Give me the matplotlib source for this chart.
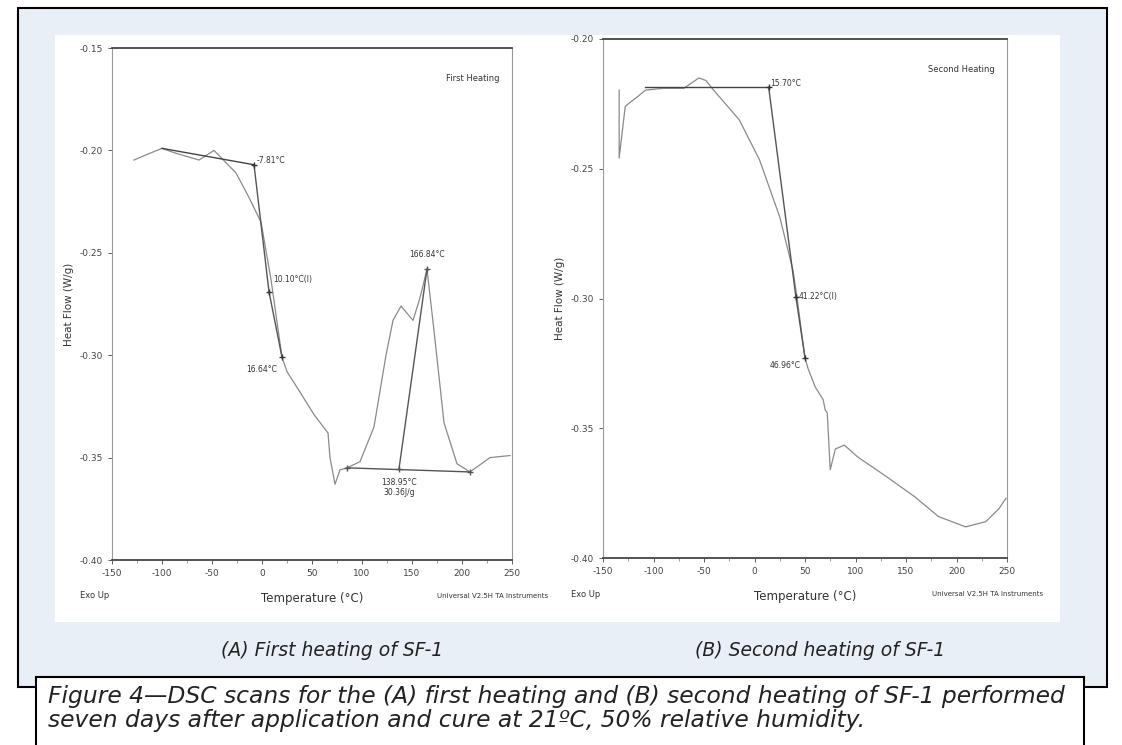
import matplotlib.pyplot as plt
from matplotlib.patches import Rectangle

# (A) first heating curve, temperature in C vs heat flow in W/g
temp_a = [-128, -116, -100, -88, -63, -48, -40, -26, -13, -1, 9, 20, 25, 38, 52, 66, 68,
          73, 78, 85, 98, 112, 124, 131, 139, 151, 158, 165, 172, 182, 195, 208, 228, 248]
flow_a = [-0.2047, -0.2022, -0.1990, -0.2011, -0.2047, -0.2000, -0.2040, -0.2110, -0.2230,
          -0.2350, -0.2630, -0.3010, -0.3080, -0.3180, -0.3290, -0.3380, -0.3500,
          -0.3630, -0.3560, -0.3550, -0.3520, -0.3350, -0.3000, -0.2830, -0.2760,
          -0.2830, -0.2720, -0.2580, -0.2880, -0.3330, -0.3530, -0.3570, -0.3500, -0.3490]
onset_a = [(-100, -0.1990), (-8, -0.2070)]
glass_a = [(-8, -0.2070), (7, -0.2690), (20, -0.3010)]
base_a = [(85, -0.3550), (208, -0.3570)]
peak_line_a = [(137, -0.3555), (165, -0.2580)]

# (B) second heating curve
temp_b = [-134, -134, -128, -125, -115, -108, -90, -70, -55, -48, -42, -15, 5, 25, 38, 42,
          50, 53, 60, 68, 70, 72, 75, 80, 89, 102, 132, 159, 182, 209, 229, 242, 249]
flow_b = [-0.2197, -0.2459, -0.2260, -0.2250, -0.2220, -0.2197, -0.2190, -0.2190, -0.2150,
          -0.2160, -0.2190, -0.2312, -0.2466, -0.2686, -0.2890, -0.2994, -0.3229,
          -0.3270, -0.3340, -0.3390, -0.3430, -0.3440, -0.3660, -0.3580, -0.3565,
          -0.3610, -0.3690, -0.3765, -0.3840, -0.3880, -0.3860, -0.3810, -0.3770]
onset_b = [(-108, -0.2185), (14, -0.2185)]
glass_b = [(14, -0.2185), (41, -0.2994), (50, -0.3229)]

W, H = 1122, 745
fig = plt.figure(figsize=(W / 100, H / 100), dpi=100)


def fx(px):
    return px / W


def fy(py):
    return 1 - py / H


def box(x0, y0, x1, y1, **kw):
    fig.patches.append(Rectangle((fx(x0), fy(y1)), fx(x1) - fx(x0), fy(y0) - fy(y1),
                                 transform=fig.transFigure, **kw))


# background panels
box(18, 8, 1107, 687, facecolor='#e9eff6', edgecolor='black', linewidth=1.5, zorder=-3)
box(55, 35, 1060, 622, facecolor='white', edgecolor='none', zorder=-2)
box(36, 677, 1084, 760, facecolor='white', edgecolor='black', linewidth=1.5, zorder=5)


def make_axes(x0, y0, x1, y1, ymax, temps, flows, tangent, glass, title):
    ax = fig.add_axes([fx(x0), fy(y1), fx(x1) - fx(x0), fy(y0) - fy(y1)])
    ax.set_facecolor('none')
    ax.plot(temps, flows, color='#8a8a8a', linewidth=0.9)
    ax.plot(*zip(*tangent), color='#444444', linewidth=1.0)
    ax.plot(*zip(*glass), color='#555555', linewidth=1.0, marker='+', markersize=5,
            markeredgecolor='#333333')
    ax.set_xlim(-150, 250)
    ax.set_ylim(-0.40, ymax)
    ax.set_xticks(range(-150, 251, 50))
    ax.set_xticks(range(-150, 251, 25), minor=True)
    ax.set_yticks([round(v * 0.05, 2) for v in range(-8, int(round(ymax / 0.05)) + 1)])
    ax.tick_params(labelsize=6.5, colors='#444444', length=3, width=0.6)
    ax.tick_params(which='minor', length=2, width=0.5, colors='#777777')
    ax.set_xticklabels([str(v) for v in range(-150, 251, 50)])
    ax.set_yticklabels([f'{v:.2f}' for v in ax.get_yticks()])
    for side in ['top', 'bottom']:
        ax.spines[side].set_color('#444444')
        ax.spines[side].set_linewidth(1.3)
    for side in ['left', 'right']:
        ax.spines[side].set_color('#999999')
        ax.spines[side].set_linewidth(0.8)
    ax.text(0.97, 0.95, title, transform=ax.transAxes, ha='right', va='top',
            fontsize=6, color='#333333')
    ax.set_xlabel('Temperature (°C)', fontsize=8.5, color='#333333', labelpad=10)
    ax.set_ylabel('Heat Flow (W/g)', fontsize=7.5, color='#333333', labelpad=4)
    ax.text(-0.08, -0.07, 'Exo Up', transform=ax.transAxes, ha='left', va='center',
            fontsize=6, color='#333333')
    ax.text(1.09, -0.07, 'Universal V2.5H TA Instruments', transform=ax.transAxes,
            ha='right', va='center', fontsize=5, color='#333333')
    return ax


ax1 = make_axes(112, 48, 512, 560, -0.15, temp_a, flow_a, onset_a, glass_a, 'First Heating')
ax1.plot(*zip(*base_a), color='#555555', linewidth=1.0, marker='+', markersize=5)
ax1.plot(*zip(*peak_line_a), color='#555555', linewidth=1.0, marker='+', markersize=5)
lab = dict(fontsize=5.5, color='#333333')
ax1.text(-5, -0.2050, '-7.81°C', ha='left', va='center', **lab)
ax1.text(11, -0.2630, '10.10°C(I)', ha='left', va='center', **lab)
ax1.text(15, -0.3050, '16.64°C', ha='right', va='top', **lab)
ax1.text(165, -0.2530, '166.84°C', ha='center', va='bottom', **lab)
ax1.text(137, -0.3600, '138.95°C\n30.36J/g', ha='center', va='top', **lab)

ax2 = make_axes(603, 39, 1007, 558, -0.20, temp_b, flow_b, onset_b, glass_b, 'Second Heating')
ax2.text(16, -0.2170, '15.70°C', ha='left', va='center', **lab)
ax2.text(44, -0.2994, '41.22°C(I)', ha='left', va='center', **lab)
ax2.text(46, -0.3260, '46.96°C', ha='right', va='center', **lab)

cap = dict(style='italic', color='#222222', family='DejaVu Sans')
fig.text(fx(332), fy(650), '(A) First heating of SF-1', ha='center', va='center',
         fontsize=13.5, **cap)
fig.text(fx(820), fy(650), '(B) Second heating of SF-1', ha='center', va='center',
         fontsize=13.5, **cap)
fig.text(fx(48), fy(703), 'Figure 4—DSC scans for the (A) first heating and (B) second heating of SF-1 performed',
         ha='left', va='baseline', zorder=6, fontsize=16.8, **cap)
fig.text(fx(48), fy(727), 'seven days after application and cure at 21ºC, 50% relative humidity.',
         ha='left', va='baseline', zorder=6, fontsize=16.8, **cap)

fig.savefig('out.png', dpi=100)
